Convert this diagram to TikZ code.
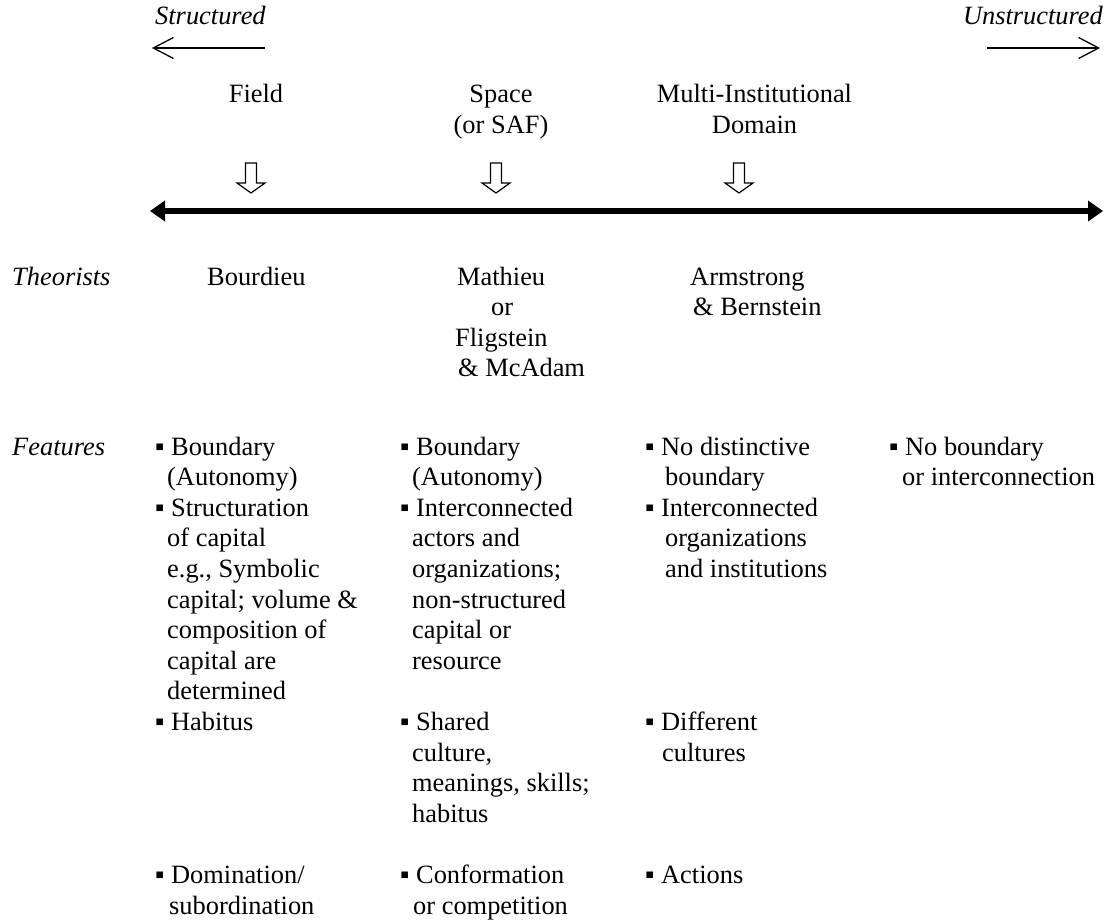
\documentclass[tikz,border=0pt]{standalone}
\usepackage{fontspec}
\setmainfont{Liberation Serif}
\usetikzlibrary{arrows.meta}

% bullet followed by its gap, as in the feature lists
\newcommand{\bul}{\makebox[16pt][l]{▪}}
\newcommand{\ind}[1]{\hspace*{#1pt}}

\begin{document}
\begin{tikzpicture}[x=1pt,y=-1pt,
  body/.style={font=\fontsize{26.4}{30.6}\selectfont},
  txt/.style={body, inner sep=0pt, anchor=base west, align=left},
  ctxt/.style={body, inner sep=0pt, anchor=base, align=center},
  label/.style={txt, font=\fontsize{26.4}{30.6}\selectfont\itshape},
  thinarrow/.style={line width=1.3pt, -{Straight Barb[length=20pt,width=21pt]}},
  axisline/.style={line width=5.5pt,
    {Triangle[length=15pt,width=20pt]}-{Triangle[length=15pt,width=20pt]}},
  blockarrow/.style={draw, line width=1.2pt, fill=white, line join=miter},
  downarrow/.pic={
    \draw[blockarrow] (-5.5,-30) -- (5.5,-30) -- (5.5,-10) -- (14,-10)
      -- (0,0) -- (-14,-10) -- (-5.5,-10) -- cycle;
  }
]
\useasboundingbox (0,0) rectangle (1110,920);
% multi-line nodes are placed by the baseline of their last line
% (line pitch 30.6)

% direction of the continuum
\node[label] (structured) at (155,25) {Structured};
\node[label, anchor=base east] (unstructured) at (1103,25) {Unstructured};
\coordinate (sL) at (152,48);
\coordinate (sR) at (265,48);
\coordinate (uL) at (987,48);
\coordinate (uR) at (1100,48);
\draw[thinarrow] (sR) -- (sL);
\draw[thinarrow] (uL) -- (uR);

% the three concepts
\node[ctxt] (field) at (256,103) {Field};
\node[ctxt] (space) at (501,133.6) {Space\\(or SAF)};
\node[ctxt] (domain) at (754.5,133.6) {Multi-Institutional\\Domain};

\pic at (251,193) {downarrow};
\pic at (496,193) {downarrow};
\pic at (739,193) {downarrow};

% the continuum
\coordinate (axL) at (150,211);
\coordinate (axR) at (1103,211);
\draw[axisline] (axL) -- (axR);

% theorists
\node[label] (theorists) at (12,285) {Theorists};
\node[txt] (bourdieu) at (207,285) {Bourdieu};
\node[txt] (mathieu) at (455,376.8) {\ind{2}Mathieu\\\ind{36}or\\Fligstein\\\ind{3}\& McAdam};
\node[txt] (armstrong) at (690,315.6) {Armstrong\\\ind{3}\& Bernstein};

% features
\node[label] (features) at (12,455) {Features};

\node[txt] (fa) at (155,485.6) {\bul Boundary\\\ind{12}(Autonomy)};
\node[txt] (fb) at (155,699.8) {\bul Structuration\\\ind{12}of capital\\\ind{12}e.g., Symbolic\\\ind{12}capital; volume \&\\\ind{12}composition of\\\ind{12}capital are\\\ind{12}determined};
\node[txt] (fc) at (155,730.4) {\bul Habitus};
\node[txt] (fd) at (155,914) {\bul Domination/\\\ind{14}subordination};

\node[txt] (sa) at (400,485.6) {\bul Boundary\\\ind{12}(Autonomy)};
\node[txt] (sb) at (400,669.2) {\bul Interconnected\\\ind{12}actors and\\\ind{12}organizations;\\\ind{12}non-structured\\\ind{12}capital or\\\ind{12}resource};
\node[txt] (sc) at (400,822.2) {\bul Shared\\\ind{12}culture,\\\ind{12}meanings, skills;\\\ind{12}habitus};
\node[txt] (sd) at (400,914) {\bul Conformation\\\ind{13}or competition};

\node[txt] (da) at (645,485.6) {\bul No distinctive\\\ind{20}boundary};
\node[txt] (db) at (645,577.4) {\bul Interconnected\\\ind{20}organizations\\\ind{20}and institutions};
\node[txt] (dc) at (645,761) {\bul Different\\\ind{17}cultures};
\node[txt] (dd) at (645,883.4) {\bul Actions};

\node[txt] (ua) at (889,485.6) {\bul No boundary\\\ind{13}or interconnection};
\end{tikzpicture}
\end{document}
